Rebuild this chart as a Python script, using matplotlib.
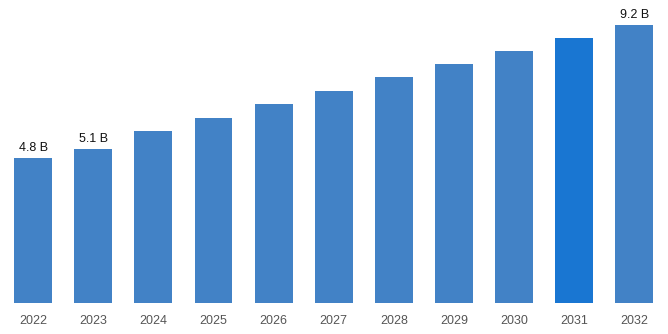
import matplotlib.pyplot as plt

plt.rcParams['font.family'] = ['Liberation Sans', 'DejaVu Sans']

# market size by year (billions)
years = ["2022", "2023", "2024", "2025", "2026", "2027", "2028", "2029", "2030", "2031", "2032"]
values = [4.8, 5.1, 5.69, 6.12, 6.58, 7.01, 7.47, 7.9, 8.33, 8.76, 9.2]
labels = {0: "4.8 B", 1: "5.1 B", 10: "9.2 B"}

base_color = "#4282C6"
highlight_color = "#1976D2"
colors = [highlight_color if y == "2031" else base_color for y in years]

fig = plt.figure(figsize=(6.68, 3.34), dpi=100)
ax = fig.add_axes([0, 31 / 334, 1, 303 / 334])

x = list(range(len(years)))
ax.bar(x, values, width=0.63, color=colors)

for i, text in labels.items():
    ax.annotate(text, (x[i], values[i]), xytext=(0, 3), textcoords="offset points",
                ha="center", va="bottom", fontsize=9, color="#111111")

ax.set_xlim(-0.55, 10.56)
ax.set_ylim(0, 10.02)
ax.set_xticks(x)
ax.set_xticklabels(years, fontsize=9, color="#555555")
ax.tick_params(axis="x", length=0, pad=9)
ax.set_yticks([])
for s in ax.spines.values():
    s.set_visible(False)

fig.savefig("out.png", dpi=100)
